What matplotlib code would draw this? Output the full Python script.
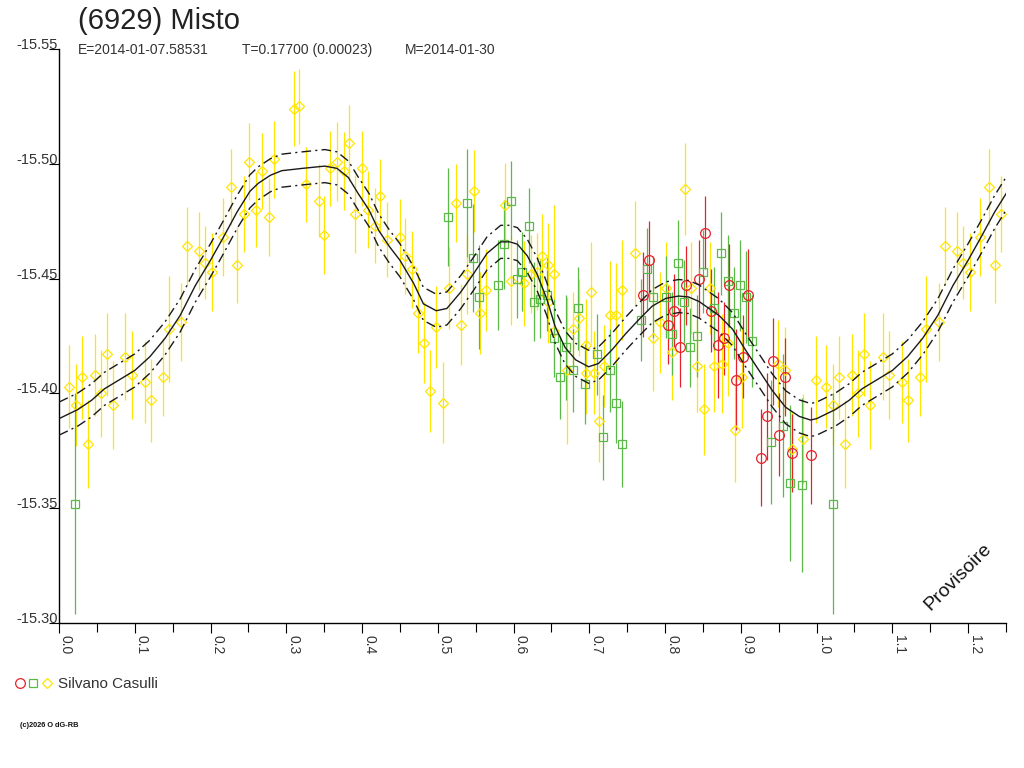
import numpy as np
import matplotlib
matplotlib.use("Agg")
import matplotlib.pyplot as plt
from matplotlib.lines import Line2D
from matplotlib.legend_handler import HandlerTuple

plt.rcParams['font.family'] = ['Liberation Sans', 'DejaVu Sans']

# ---------------- data (phase, magnitude, error) ----------------
yel_phase = [0.013, 0.022, 0.030, 0.038, 0.047, 0.055, 0.063, 0.071, 0.087, 0.096,
             0.113, 0.121, 0.137, 0.145, 0.161, 0.169, 0.185, 0.193, 0.202, 0.216,
             0.227, 0.235, 0.244, 0.251, 0.260, 0.268, 0.277, 0.284, 0.310, 0.317,
             0.326, 0.343, 0.350, 0.358, 0.367, 0.376, 0.383, 0.391, 0.400, 0.408,
             0.417, 0.424, 0.433,
             0.450, 0.457, 0.466, 0.474, 0.482, 0.490, 0.498, 0.507, 0.515, 0.524,
             0.531, 0.539, 0.548, 0.556, 0.564, 0.589, 0.597, 0.614, 0.623, 0.631,
             0.638, 0.646,
             0.653, 0.646, 0.654, 0.670, 0.679, 0.687, 0.695, 0.702, 0.696, 0.706,
             0.713, 0.719, 0.727, 0.735, 0.743, 0.760, 0.784, 0.793, 0.801, 0.809,
             0.826, 0.834, 0.842, 0.851, 0.859, 0.864,
             0.875, 0.883, 0.892, 0.901, 0.949, 0.958, 0.967, 0.982, 0.999]
yel_mag = [-15.403, -15.395, -15.407, -15.378, -15.408, -15.400, -15.417, -15.395, -15.416, -15.408,
           -15.405, -15.397, -15.407, -15.428, -15.431, -15.464, -15.462, -15.457, -15.453, -15.468,
           -15.490, -15.456, -15.478, -15.501, -15.480, -15.497, -15.477, -15.502, -15.524, -15.525,
           -15.491, -15.484, -15.469, -15.498, -15.501, -15.497, -15.509, -15.478, -15.498, -15.480,
           -15.473, -15.486, -15.467,
           -15.468, -15.460, -15.454, -15.435, -15.422, -15.401, -15.429, -15.396, -15.446, -15.483,
           -15.430, -15.452, -15.488, -15.435, -15.445, -15.482, -15.449, -15.448, -15.452, -15.453,
           -15.460, -15.456,
           -15.452, -15.440, -15.427, -15.410, -15.428, -15.433, -15.421, -15.444, -15.409, -15.409,
           -15.388, -15.412, -15.434, -15.434, -15.445, -15.461, -15.424, -15.431, -15.446, -15.418,
           -15.489, -15.446, -15.412, -15.393, -15.446, -15.412,
           -15.413, -15.422, -15.384, -15.407, -15.413, -15.410, -15.376, -15.380, -15.406]
yel_err = [0.018, 0.018, 0.018, 0.019, 0.018, 0.019, 0.018, 0.019, 0.019, 0.019,
           0.018, 0.018, 0.017, 0.023, 0.017, 0.017, 0.017, 0.016, 0.017, 0.017,
           0.0165, 0.0166, 0.0165, 0.0166, 0.0164, 0.0165, 0.017, 0.0167, 0.0163, 0.0163,
           0.0164, 0.016, 0.017, 0.0165, 0.017, 0.017, 0.0165, 0.017, 0.0165, 0.0167,
           0.0163, 0.0163, 0.0163,
           0.0165, 0.0165, 0.0167, 0.0173, 0.0176, 0.018, 0.0178, 0.0178, 0.0178, 0.017,
           0.0176, 0.0174, 0.0178, 0.018, 0.018, 0.0184, 0.019, 0.0185, 0.017, 0.0167,
           0.018, 0.018,
           0.030, 0.018, 0.018, 0.032, 0.016, 0.0168, 0.020, 0.022, 0.018, 0.018,
           0.0178, 0.018, 0.0236, 0.023, 0.0216, 0.023, 0.023, 0.022, 0.020, 0.021,
           0.020, 0.020, 0.020, 0.020, 0.020, 0.020,
           0.0216, 0.023, 0.0225, 0.022, 0.019, 0.019, 0.016, 0.0196, 0.019]

grn_phase = [0.021,
             0.513, 0.538, 0.546, 0.554, 0.579, 0.587, 0.596, 0.604, 0.611, 0.620,
             0.627, 0.635, 0.644,
             0.653, 0.661, 0.669, 0.678, 0.685, 0.694, 0.710, 0.718, 0.727, 0.735,
             0.743, 0.768, 0.776, 0.784, 0.801, 0.809, 0.817, 0.825, 0.833, 0.842,
             0.850, 0.865,
             0.874, 0.883, 0.899, 0.907, 0.891, 0.915, 0.956, 0.940, 0.965, 0.981]
grn_mag = [-15.352,
           -15.477, -15.483, -15.459, -15.442, -15.447, -15.465, -15.484, -15.450, -15.453, -15.473,
           -15.440, -15.441, -15.443,
           -15.424, -15.407, -15.420, -15.410, -15.437, -15.404, -15.417, -15.381, -15.410, -15.396,
           -15.378, -15.432, -15.454, -15.442, -15.442, -15.426, -15.457, -15.440, -15.420, -15.425,
           -15.453, -15.437,
           -15.461, -15.449, -15.447, -15.442, -15.435, -15.423, -15.386, -15.379, -15.361, -15.360]
grn_err = [0.048,
           0.0213, 0.0236, 0.0236, 0.0226, 0.0196, 0.0194, 0.0173, 0.017, 0.0173, 0.0163,
           0.0172, 0.017, 0.016,
           0.017, 0.018, 0.023, 0.018, 0.018, 0.0175, 0.0176, 0.0185, 0.018, 0.0174,
           0.0186, 0.018, 0.018, 0.018, 0.018, 0.018, 0.0187, 0.018, 0.0174, 0.018,
           0.018, 0.018,
           0.018, 0.020, 0.020, 0.020, 0.020, 0.020, 0.031, 0.027, 0.034, 0.038]

red_phase = [0.771, 0.779, 0.804, 0.812, 0.820, 0.828, 0.845, 0.853, 0.861,
             0.885, 0.910, 0.878, 0.870, 0.903, 0.894, 0.943, 0.958, 0.935, 0.951,
             0.927, 0.968, 0.993]
red_mag = [-15.443, -15.458, -15.430, -15.436, -15.420, -15.447, -15.450, -15.470, -15.436,
           -15.447, -15.443, -15.424, -15.421, -15.416, -15.406, -15.414, -15.407, -15.390, -15.382,
           -15.372, -15.374, -15.373]
red_err = [0.0185, 0.017, 0.0174, 0.016, 0.017, 0.017, 0.017, 0.016, 0.018,
           0.018, 0.020, 0.016, 0.023, 0.018, 0.022, 0.019, 0.017, 0.019, 0.018,
           0.021, 0.017, 0.021]

# fitted light curve and its uncertainty band
fit_phase = [0.000, 0.025, 0.043, 0.060, 0.080, 0.100, 0.120, 0.140, 0.160, 0.180,
             0.200, 0.217, 0.235, 0.252, 0.263, 0.279, 0.294, 0.321, 0.351, 0.367,
             0.382, 0.395, 0.409, 0.422, 0.436, 0.450, 0.468, 0.481, 0.498, 0.512,
             0.530, 0.547, 0.565, 0.583, 0.595, 0.605, 0.618, 0.631, 0.644, 0.655,
             0.668, 0.682, 0.699, 0.712, 0.730, 0.748, 0.765, 0.783, 0.801, 0.818,
             0.831, 0.845, 0.858, 0.871, 0.889, 0.906, 0.924, 0.941, 0.959, 0.977,
             0.992, 1.000]
fit_mag = [-15.389, -15.393, -15.397, -15.402, -15.406, -15.410, -15.416, -15.424, -15.434, -15.447,
           -15.458, -15.468, -15.479, -15.488, -15.4915, -15.495, -15.497, -15.498, -15.499, -15.498,
           -15.494, -15.487, -15.480, -15.471, -15.464, -15.458, -15.448, -15.439, -15.436, -15.437,
           -15.444, -15.452, -15.461, -15.466, -15.466, -15.465, -15.460, -15.452, -15.441, -15.429,
           -15.420, -15.4146, -15.4116, -15.413, -15.419, -15.426, -15.432, -15.438, -15.4414, -15.4424,
           -15.442, -15.440, -15.437, -15.434, -15.428, -15.419, -15.410, -15.4015, -15.394, -15.390,
           -15.3884, -15.389]
fit_band = 0.0072

yticks = [-15.55, -15.50, -15.45, -15.40, -15.35, -15.30]
xticks = [0.0, 0.1, 0.2, 0.3, 0.4, 0.5, 0.6, 0.7, 0.8, 0.9, 1.0, 1.1, 1.2]

YEL = '#FFE500'
GRN = '#5BBA47'
RED = '#E8202A'
TXT = '#333333'


def wrap(ph, *cols, limit=0.25):
    ph = np.asarray(ph)
    sel = ph < limit
    out = [np.concatenate([ph, ph[sel] + 1.0])]
    for c in cols:
        c = np.asarray(c)
        out.append(np.concatenate([c, c[sel]]))
    return out


fig = plt.figure(figsize=(10.24, 7.68), dpi=100)
ax = fig.add_axes([59 / 1024, 1 - 623 / 768, (1006 - 59) / 1024, (623 - 49) / 768])

lw = 0.9
for ph, mg, er, col, mk, ms in [(yel_phase, yel_mag, yel_err, YEL, 'D', 5.0),
                                (grn_phase, grn_mag, grn_err, GRN, 's', 5.6),
                                (red_phase, red_mag, red_err, RED, 'o', 7.0)]:
    p, m, e = wrap(ph, mg, er)
    ax.errorbar(p, m, yerr=e, fmt=mk, mfc='none', mec=col, mew=lw, ms=ms,
                ecolor=col, elinewidth=lw, capsize=0, zorder=2)

fp, fm = wrap(fit_phase, fit_mag, limit=0.27)
order = np.argsort(fp, kind='stable')
fp, fm = fp[order], fm[order]
ax.plot(fp, fm, color='#1a1a1a', lw=1.0, zorder=5)
ax.plot(fp, fm - fit_band, color='#1a1a1a', lw=1.0, ls=(0, (7, 3, 1.5, 3)), zorder=5)
ax.plot(fp, fm + fit_band, color='#1a1a1a', lw=1.0, ls=(0, (7, 3, 1.5, 3)), zorder=5)

ax.set_xlim(0, 1.25)
ax.set_ylim(-15.30, -15.55)

for s in ['top', 'right']:
    ax.spines[s].set_visible(False)
for s in ['left', 'bottom']:
    ax.spines[s].set_linewidth(1.0)
    ax.spines[s].set_color('black')

ax.set_xticks(xticks)
ax.set_xticks(np.round(np.arange(0.05, 1.26, 0.1), 2), minor=True)
ax.set_xticklabels([f'{t:.1f}' for t in xticks], rotation=-90, ha='left', va='top',
                   fontsize=10, color=TXT)
ax.tick_params(axis='x', which='major', direction='out', length=7.5, width=0.8, pad=1)
ax.tick_params(axis='x', which='minor', direction='out', length=6.5, width=0.8)

ax.set_yticks(yticks)
ax.set_yticklabels([f'{t:.2f}' for t in yticks], fontsize=10.5, color=TXT)
ax.tick_params(axis='y', which='major', direction='out', length=7.5, width=0.8, pad=-6.8)
for lab in ax.get_yticklabels():
    lab.set_va('baseline')

# titles
fig.text(78 / 1024, 1 - 29 / 768, '(6929) Misto', fontsize=21, color='#222222', va='baseline')
fig.text(78 / 1024, 1 - 54 / 768, 'E=2014-01-07.58531', fontsize=10, color=TXT, va='baseline')
fig.text(242 / 1024, 1 - 54 / 768, 'T=0.17700 (0.00023)', fontsize=10, color=TXT, va='baseline')
fig.text(405 / 1024, 1 - 54 / 768, 'M=2014-01-30', fontsize=10, color=TXT, va='baseline')

# watermark
fig.text(958 / 1024, 1 - 577 / 768, 'Provisoire', fontsize=14, color='#111111',
         rotation=45, ha='center', va='center')

# legend
h_r = Line2D([], [], ls='none', marker='o', mfc='none', mec=RED, ms=7, mew=lw)
h_g = Line2D([], [], ls='none', marker='s', mfc='none', mec=GRN, ms=5.6, mew=lw)
h_y = Line2D([], [], ls='none', marker='D', mfc='none', mec=YEL, ms=5.2, mew=lw)
leg = fig.legend(handles=[(h_r, h_g, h_y)], labels=['Silvano Casulli'],
                 handler_map={tuple: HandlerTuple(ndivide=None, pad=0.15)},
                 loc='center left', bbox_to_anchor=(14 / 1024, 1 - 684 / 768),
                 frameon=False, fontsize=11, handlelength=2.5, handletextpad=0.4,
                 borderaxespad=0, borderpad=0)
for t in leg.get_texts():
    t.set_color(TXT)

fig.text(20 / 1024, 1 - 727 / 768, '(c)2026 O dG-RB', fontsize=5.3, color='#111111',
         va='baseline', fontweight='bold')

fig.savefig('out.png', dpi=100)
